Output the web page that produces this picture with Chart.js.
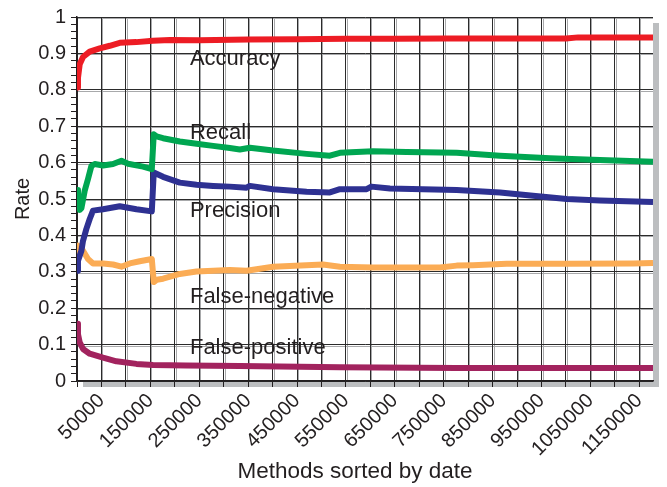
<!DOCTYPE html>
<html>
<head>
<meta charset="utf-8">
<script src="https://cdn.jsdelivr.net/npm/chart.js@4.4.1/dist/chart.umd.min.js"></script>
<style>
  html, body { margin: 0; padding: 0; background: #ffffff; }
  canvas { display: block; }
</style>
</head>
<body>
<canvas id="rates" width="667" height="487"></canvas>
<script>
// Running rates over methods sorted by date: x = number of methods, y = rate
const accuracyCounts = [0, 2000, 5500, 12300, 26000, 46500, 67000, 87400, 121500, 155000, 190000, 250000, 350000, 450000, 550000, 650000, 750000, 850000, 1000000, 1025000, 1100000, 1178000];
const accuracyRates  = [0.806, 0.833, 0.870, 0.890, 0.905, 0.914, 0.921, 0.929, 0.931, 0.935, 0.937, 0.936, 0.938, 0.939, 0.940, 0.940, 0.941, 0.941, 0.941, 0.944, 0.944, 0.944];

const recallCounts = [0, 2000, 5500, 9000, 15800, 22500, 29500, 36200, 53200, 73700, 90900, 104400, 135100, 153000, 157000, 162500, 176000, 210200, 244400, 278400, 312500, 333000, 353500, 401100, 469500, 517200, 537700, 605200, 674200, 776500, 865100, 967400, 1069400, 1178000];
const recallRates  = [0.525, 0.490, 0.470, 0.475, 0.523, 0.555, 0.591, 0.596, 0.592, 0.596, 0.605, 0.597, 0.589, 0.582, 0.678, 0.672, 0.667, 0.658, 0.652, 0.646, 0.640, 0.636, 0.641, 0.633, 0.624, 0.619, 0.627, 0.631, 0.629, 0.627, 0.619, 0.612, 0.607, 0.602];

const precisionCounts = [0, 2000, 9000, 12300, 19200, 26000, 32700, 53200, 87400, 121600, 153000, 157000, 176000, 210200, 244400, 278400, 312500, 346700, 353500, 401100, 469500, 517200, 537700, 592300, 602000, 640000, 707500, 776500, 865100, 932600, 1001600, 1069400, 1178000];
const precisionRates  = [0.303, 0.330, 0.358, 0.385, 0.418, 0.445, 0.468, 0.472, 0.480, 0.472, 0.466, 0.573, 0.561, 0.545, 0.539, 0.536, 0.534, 0.531, 0.536, 0.527, 0.520, 0.518, 0.527, 0.527, 0.534, 0.529, 0.527, 0.525, 0.518, 0.509, 0.500, 0.496, 0.492];

const falseNegCounts = [0, 2000, 12300, 22500, 32700, 53200, 73700, 90900, 107900, 128300, 153000, 157000, 163000, 176000, 210200, 244400, 312500, 346700, 401100, 503000, 537700, 605200, 674200, 742300, 776500, 809900, 878800, 1002000, 1137300, 1178000];
const falseNegRates  = [0.340, 0.372, 0.358, 0.335, 0.323, 0.323, 0.320, 0.314, 0.323, 0.329, 0.335, 0.272, 0.278, 0.281, 0.294, 0.301, 0.305, 0.303, 0.314, 0.320, 0.314, 0.312, 0.312, 0.312, 0.317, 0.318, 0.322, 0.322, 0.323, 0.324];

const falsePosCounts = [0, 2000, 5500, 12300, 26000, 53200, 80600, 121600, 155500, 223000, 333000, 537700, 776500, 1178000];
const falsePosRates  = [0.157, 0.129, 0.106, 0.088, 0.075, 0.064, 0.054, 0.047, 0.044, 0.0425, 0.041, 0.038, 0.036, 0.036];

const seriesNames = ['Accuracy', 'Recall', 'Precision', 'False-negative', 'False-positive'];
const xTickLabels = ['50000', '150000', '250000', '350000', '450000', '550000', '650000', '750000', '850000', '950000', '1050000', '1150000'];
const yTickLabels = ['0', '0.1', '0.2', '0.3', '0.4', '0.5', '0.6', '0.7', '0.8', '0.9', '1'];
const xAxisTitle = 'Methods sorted by date';
const yAxisTitle = 'Rate';
const xMax = 1178000;

const INK = '#231f20';
const FONT = "'Liberation Sans', Arial, Helvetica, sans-serif";

const toPoints = (xs, ys) => xs.map((x, i) => ({ x: x, y: ys[i] }));

// vertical grid every 50000 methods, horizontal ticks every 0.02
const xGridValues = Array.from({ length: 24 }, (_, i) => i * 50000);
const yTickValues = Array.from({ length: 51 }, (_, i) => i / 50);
const isMajorY = v => Math.round(v * 50) % 5 === 0;

// Plot panel with drop shadow and soft grey edge beside each grid line
const panelPlugin = {
  id: 'panel',
  beforeDraw(chart) {
    const { ctx, chartArea: a, scales } = chart;
    ctx.save();
    ctx.fillStyle = '#bcbec0';
    ctx.fillRect(a.left + 6, a.top + 6, a.right - a.left, a.bottom - a.top);
    ctx.fillStyle = '#ffffff';
    ctx.fillRect(a.left, a.top, a.right - a.left, a.bottom - a.top);
    ctx.strokeStyle = '#a8a9ab';
    ctx.lineWidth = 1;
    ctx.beginPath();
    scales.x.ticks.forEach(t => {
      if (t.value <= 0) return;
      const px = Math.round(scales.x.getPixelForValue(t.value)) + 1.5;
      ctx.moveTo(px, a.top);
      ctx.lineTo(px, a.bottom);
    });
    scales.y.ticks.forEach(t => {
      if (!isMajorY(t.value) || t.value <= 0) return;
      const py = Math.round(scales.y.getPixelForValue(t.value)) + 1.5;
      ctx.moveTo(a.left, py);
      ctx.lineTo(a.right, py);
    });
    ctx.stroke();
    ctx.restore();
  },
  // x-axis title, set slightly left of the plot's centre line
  afterDraw(chart, args, opts) {
    const { ctx, chartArea: a, scales } = chart;
    ctx.save();
    ctx.fillStyle = INK;
    ctx.font = opts.titleSize + 'px ' + FONT;
    ctx.textAlign = 'center';
    ctx.textBaseline = 'middle';
    ctx.fillText(xAxisTitle, (a.left + a.right) / 2 - opts.titleShift, scales.x.bottom - opts.titleOffset);
    ctx.restore();
  }
};

// Series names written inside the plot
const seriesLabelPlugin = {
  id: 'seriesLabels',
  afterDatasetsDraw(chart, args, opts) {
    const { ctx, scales } = chart;
    ctx.save();
    ctx.fillStyle = INK;
    ctx.font = opts.size + 'px ' + FONT;
    ctx.textAlign = 'left';
    ctx.textBaseline = 'alphabetic';
    opts.anchors.forEach((a, i) => {
      ctx.fillText(seriesNames[i], scales.x.getPixelForValue(a.x), scales.y.getPixelForValue(a.y));
    });
    ctx.restore();
  }
};

const line = (name, pts, color) => ({
  label: name,
  data: pts,
  borderColor: color,
  backgroundColor: color,
  borderWidth: 6,
  pointRadius: 0,
  tension: 0,
  fill: false,
  borderJoinStyle: 'round'
});

new Chart(document.getElementById('rates'), {
  type: 'line',
  data: {
    datasets: [
      line(seriesNames[0], toPoints(accuracyCounts, accuracyRates), '#ed1c24'),
      line(seriesNames[1], toPoints(recallCounts, recallRates), '#00a651'),
      line(seriesNames[2], toPoints(precisionCounts, precisionRates), '#2e3192'),
      line(seriesNames[3], toPoints(falseNegCounts, falseNegRates), '#fbac55'),
      line(seriesNames[4], toPoints(falsePosCounts, falsePosRates), '#a2235e')
    ]
  },
  plugins: [panelPlugin, seriesLabelPlugin],
  options: {
    responsive: false,
    animation: false,
    layout: { padding: { top: 16, right: 14, left: 0, bottom: 0 } },
    plugins: {
      legend: { display: false },
      tooltip: { enabled: false },
      panel: { titleSize: 22.5, titleShift: 10, titleOffset: 15.5 },
      seriesLabels: {
        size: 22,
        anchors: [
          { x: 231000, y: 0.868 },
          { x: 231000, y: 0.666 },
          { x: 231000, y: 0.450 },
          { x: 231000, y: 0.213 },
          { x: 231000, y: 0.075 }
        ]
      }
    },
    scales: {
      x: {
        type: 'linear',
        min: 0,
        max: xMax,
        afterBuildTicks: s => { s.ticks = xGridValues.filter(v => v <= xMax).map(v => ({ value: v })); },
        afterFit: s => { s.height = 106; },
        ticks: {
          autoSkip: false,
          minRotation: 45,
          maxRotation: 45,
          padding: 2,
          color: INK,
          font: { family: FONT, size: 20 },
          callback: v => (xTickLabels.includes(String(v)) ? String(v) : '')
        },
        grid: { color: '#2b2b2b', lineWidth: 1, tickLength: 6, tickColor: INK },
        border: { color: INK, width: 1.5 },
        title: { display: false }
      },
      y: {
        min: 0,
        max: 1,
        afterBuildTicks: s => { s.ticks = yTickValues.map(v => ({ value: v })); },
        afterFit: s => { s.width = 77; },
        ticks: {
          autoSkip: false,
          padding: 5,
          color: INK,
          font: { family: FONT, size: 20 },
          callback: v => {
            const k = Math.round(v * 50);
            return k % 5 === 0 ? yTickLabels[k / 5] : '';
          }
        },
        grid: {
          color: c => (c.tick && isMajorY(c.tick.value) ? '#2b2b2b' : 'rgba(0,0,0,0)'),
          lineWidth: 1,
          tickLength: 6,
          tickColor: INK
        },
        border: { color: INK, width: 1.5 },
        title: {
          display: true,
          text: yAxisTitle,
          color: INK,
          font: { family: FONT, size: 20 },
          padding: { top: 11, bottom: 0 }
        }
      }
    }
  }
});
</script>
</body>
</html>
